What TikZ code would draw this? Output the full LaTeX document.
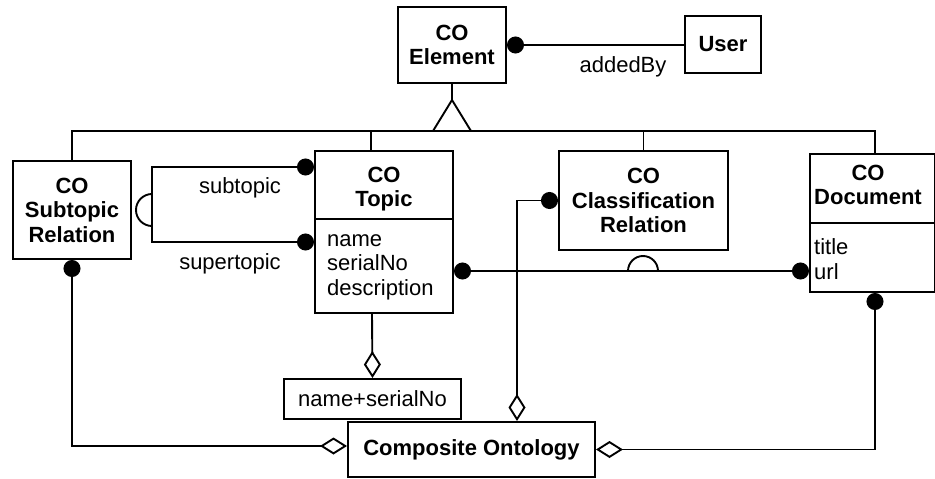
\documentclass[tikz,border=0pt]{standalone}
\usepackage{fontspec}
\setmainfont{Liberation Sans}
\usetikzlibrary{arrows.meta,calc}
\newcommand\fs{\fontsize{22}{24.5}\selectfont}
\tikzset{
  Dt/.tip={Circle[length=17pt]},
  Ag/.tip={Diamond[open,length=27pt,width=17pt]},
  ln/.style={line width=1.9pt},
  box/.style={draw, line width=2pt, inner sep=0pt, align=center, font=\fs\bfseries},
  hdr/.style={inner sep=0pt, align=center, font=\fs\bfseries},
  attr/.style={inner sep=0pt, align=left, anchor=west, font=\fs},
  lbl/.style={inner sep=0pt, font=\fs},
}
\begin{document}
\begin{tikzpicture}[x=1pt,y=-1pt]
\useasboundingbox (0,0) rectangle (935,479);
% nodes
\node[box, minimum width=108pt, minimum height=76pt] (elem) at (452,45) {CO\\Element};
\node[box, minimum width=76pt, minimum height=57pt] (user) at (723,44.5) {User};
\node[box, minimum width=118pt, minimum height=98pt] (sub) at (72,210) {CO\\Subtopic\\Relation};
\node[box, minimum width=138pt, minimum height=162pt] (topic) at (384,232) {};
\node[hdr] (topich) at (384,189) {CO\\Topic};
\node[attr] (topica) at (327,267) {name\\serialNo\\description};
\node[box, minimum width=169pt, minimum height=99pt] (class) at (643.5,200.5) {CO\\Classification\\Relation};
\node[box, minimum width=125pt, minimum height=138pt] (doc) at (872.5,223) {};
\node[hdr] (doch) at (868,185) {CO\\Document};
\node[attr] (doca) at (814,259) {title\\url};
\node[box, font=\fs, minimum width=177pt, minimum height=40pt] (nsn) at (372.5,399) {name+serialNo};
\node[box, minimum width=247pt, minimum height=55pt] (comp) at (471.5,449.5) {Composite Ontology};
% compartment dividers
\draw[ln] (topic.west |- 0,219) -- (topic.east |- 0,219);
\draw[ln] (doc.west |- 0,223) -- (doc.east |- 0,223);
% labels
\node[lbl] (addedby) at (623,67) {addedBy};
\node[lbl] (subtl) at (240,188) {subtopic};
\node[lbl] (supertl) at (230,264) {supertopic};
% addedBy association
\draw[ln, Dt-] (elem.east) -- (elem.east -| user.west);
% generalization
\coordinate (apex) at (452,100);
\coordinate (bar) at (452,131);
\draw[ln] (elem.south) -- (apex);
\draw[ln] (sub.north) -- (sub.north |- bar) -- ($(doc.north |- bar)+(2.5,0)$) -- ($(doc.north)+(2.5,0)$);
\draw[ln] ($(topic.north)+(-13,0)$) -- ($(topic.north |- bar)+(-13,0)$);
\draw[ln] (class.north) -- (class.north |- bar);
\draw[ln, fill=white] (apex) -- ($(bar)+(-19,0)$) -- ($(bar)+(19,0)$) -- cycle;
% subtopic / supertopic bracket
\draw[ln, Dt-Dt] ($(topic.west)+(0,-65)$) -- (152,167) -- (152,242) -- ($(topic.west)+(0,10)$);
\draw[ln] (152,194) arc[start angle=90, end angle=270, radius=16pt];
% topic - document association with classification relation
\draw[ln, Dt-Dt] ($(topic.east)+(0,39)$) -- ($(doc.west)+(0,48)$);
\draw[ln] (628,271) arc[start angle=180, end angle=0, radius=15pt];
% aggregations
\draw[ln, -Ag] ($(topic.south)+(-12,0)$) -- (nsn.north);
\draw[ln, Dt-Ag] (class.west) -| ($(comp.north)+(45.5,0)$);
\draw[ln, Dt-Ag] (sub.south) |- ($(comp.west)+(0,-3.5)$);
\draw[ln, Dt-Ag] ($(doc.south)+(2.5,0)$) |- (comp.east);
\end{tikzpicture}
\end{document}
